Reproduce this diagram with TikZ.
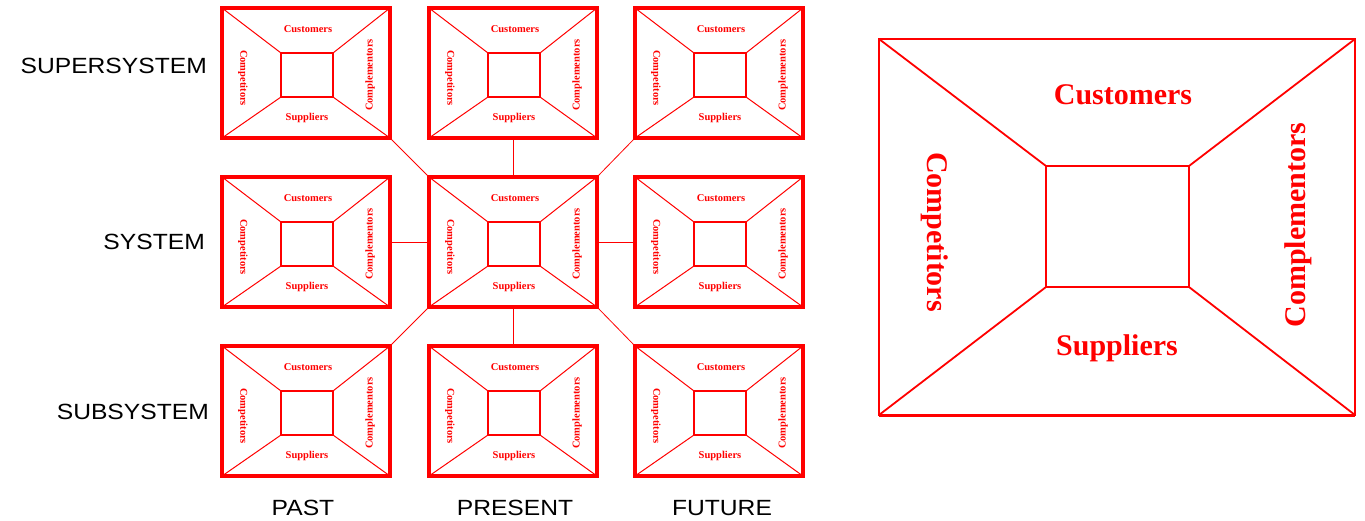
\documentclass[tikz,border=0pt]{standalone}
\usepackage{fontspec}
\setmainfont{Liberation Serif}
\newfontfamily\lblfont{Liberation Sans}
\definecolor{cred}{RGB}{255,0,0}
\tikzset{
  outerbox/.style={draw=cred, rectangle, outer sep=0pt, inner sep=0pt, minimum width=168pt, minimum height=130pt},
  innerbox/.style={draw=cred, rectangle, outer sep=0pt, inner sep=0pt, line width=1.5pt, minimum width=52pt, minimum height=44pt},
  diag/.style={draw=cred, line width=1pt},
  conn/.style={draw=cred, line width=0.8pt},
  smalltxt/.style={text=cred, font=\fontsize{10.5}{12}\selectfont\bfseries, inner sep=0pt},
  bigtxt/.style={text=cred, font=\fontsize{30}{34}\selectfont\bfseries, inner sep=0pt},
  lbl/.style={text=black, font=\lblfont\fontsize{22}{25}\selectfont, inner sep=0pt}
}
\newcommand\ccbox[4]{%
  \begin{scope}[shift={(#2,#3)}]
    \node[outerbox, line width=#4] (b#1) at (0,0) {};
    \node[innerbox] (i#1) at (1,2) {};
    \draw[line width=2.5pt, cred] (i#1.south west) -- (i#1.south east);
    \draw[diag] (b#1.north west) -- (i#1.north west);
    \draw[diag] (b#1.north east) -- (i#1.north east);
    \draw[diag] (b#1.south west) -- (i#1.south west);
    \draw[diag] (b#1.south east) -- (i#1.south east);
    \node[smalltxt] (cu#1) at (2,-44) {Customers};
    \node[smalltxt] (su#1) at (1,45) {Suppliers};
    \node[smalltxt, rotate=-90] (co#1) at (-63,5) {Competitors};
    \node[smalltxt, rotate=90] (cm#1) at (64,2) {Complementors};
  \end{scope}}
\begin{document}
\begin{tikzpicture}[x=1pt, y=-1pt]
\useasboundingbox (0,0) rectangle (1365,520);
% grid of boxes
\ccbox{11}{306}{73}{3.5pt}
\ccbox{12}{513}{73}{3.5pt}
\ccbox{13}{719}{73}{3.5pt}
\ccbox{21}{306}{242}{3.5pt}
\ccbox{22}{513}{242}{4.5pt}
\ccbox{23}{719}{242}{3.5pt}
\ccbox{31}{306}{411}{3.5pt}
\ccbox{32}{513}{411}{3.5pt}
\ccbox{33}{719}{411}{3.5pt}
% connectors
\draw[conn] (b12.south) -- (b22.north);
\draw[conn] (b22.south) -- (b32.north);
\draw[conn] (b21.east) -- (b22.west);
\draw[conn] (b22.east) -- (b23.west);
\draw[conn] (b11.south east) -- (b22.north west);
\draw[conn] (b13.south west) -- (b22.north east);
\draw[conn] (b31.north east) -- (b22.south west);
\draw[conn] (b33.north west) -- (b22.south east);
% row / column labels
\node[lbl, anchor=east] (lsup) at (207,66) {\scalebox{1.12}[1]{SUPERSYSTEM}};
\node[lbl, anchor=east] (lsys) at (205,242) {\scalebox{1.12}[1]{SYSTEM}};
\node[lbl, anchor=east] (lsub) at (209,412) {\scalebox{1.12}[1]{SUBSYSTEM}};
\node[lbl] (lpast) at (303,508) {\scalebox{1.12}[1]{PAST}};
\node[lbl] (lpres) at (515,508) {\scalebox{1.12}[1]{PRESENT}};
\node[lbl] (lfut) at (722,508) {\scalebox{1.12}[1]{FUTURE}};
% big box
\node[draw=cred, line width=2.5pt, rectangle, outer sep=0pt, inner sep=0pt, minimum width=476pt, minimum height=376pt] (B) at (1117,227) {};
\draw[cred, line width=3pt] (B.south west) -- (B.south east);
\node[draw=cred, line width=2pt, rectangle, outer sep=0pt, inner sep=0pt, minimum width=143pt, minimum height=121pt] (I) at (1117.5,226.5) {};
\draw[cred, line width=1pt] (I.north west) -- (I.north east);
\draw[cred, line width=2.5pt] (I.south west) -- (I.south east);
\draw[cred, line width=1.8pt] (B.north west) -- (I.north west);
\draw[cred, line width=1.8pt] (B.north east) -- (I.north east);
\draw[cred, line width=1.8pt] (B.south west) -- (I.south west);
\draw[cred, line width=1.8pt] (B.south east) -- (I.south east);
\node[bigtxt] (Bcu) at (1123,95) {Customers};
\node[bigtxt] (Bsu) at (1117,348) {Suppliers};
\node[bigtxt, rotate=-90] (Bco) at (935,232) {Competitors};
\node[bigtxt, rotate=90] (Bcm) at (1298,225) {Complementors};
\end{tikzpicture}
\end{document}
